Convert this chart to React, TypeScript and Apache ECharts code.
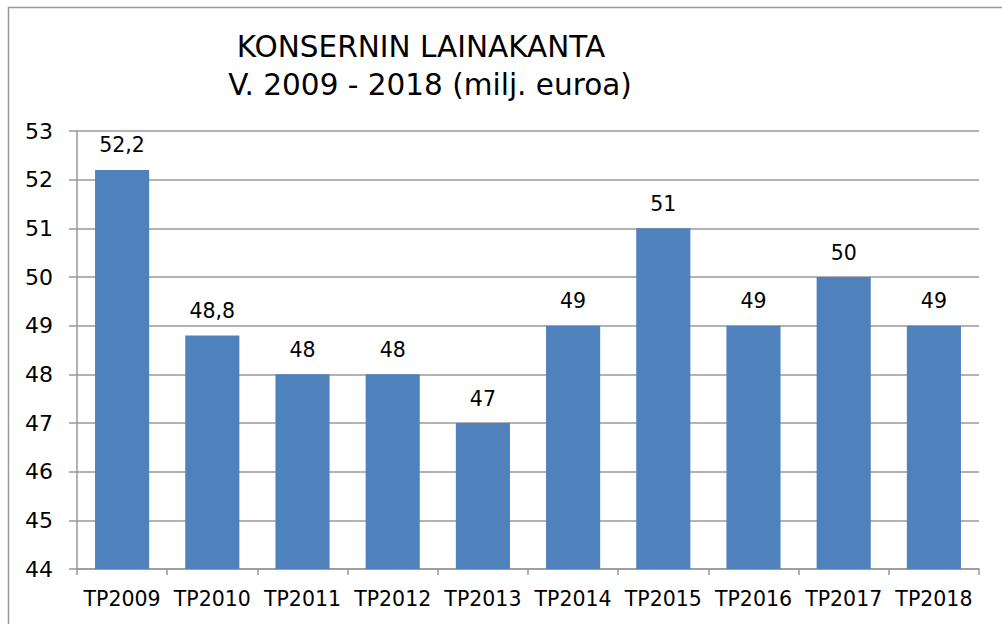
import React, { useEffect, useRef } from "react";
import * as echarts from "echarts";

const categories = ["TP2009", "TP2010", "TP2011", "TP2012", "TP2013", "TP2014", "TP2015", "TP2016", "TP2017", "TP2018"];
const values = [52.2, 48.8, 48, 48, 47, 49, 51, 49, 50, 49];
const titleLine1 = "KONSERNIN LAINAKANTA";
const titleLine2 = "V. 2009 - 2018 (milj. euroa)";
const yMin = 44;
const yMax = 53;

export default function App() {
  const ref = useRef<HTMLDivElement>(null);
  useEffect(() => {
    if (!ref.current) return;
    const chart = echarts.init(ref.current, null, { renderer: "svg" });
    const font = "DejaVu Sans, Verdana, sans-serif";
    chart.setOption({
      animation: false,
      backgroundColor: "#ffffff",
      textStyle: { fontFamily: font },
      graphic: [
        {
          type: "rect",
          shape: { x: 8.5, y: 7.5, width: 1100, height: 700 },
          style: { fill: "none", stroke: "#999999", lineWidth: 1.5 },
          silent: true,
        },
        {
          type: "text",
          x: 421,
          y: 62,
          style: { text: titleLine1, fontSize: 29.5, fontFamily: font, fill: "#000", textAlign: "center", textVerticalAlign: "bottom" },
        },
        {
          type: "text",
          x: 430,
          y: 100,
          style: { text: titleLine2, fontSize: 29.5, fontFamily: font, fill: "#000", textAlign: "center", textVerticalAlign: "bottom" },
        },
      ],
      grid: { left: 77, right: 23, top: 131, bottom: 55 },
      xAxis: {
        type: "category",
        data: categories,
        axisLine: { lineStyle: { color: "#999999", width: 1.5 } },
        axisTick: { show: true, length: 6, lineStyle: { color: "#999999", width: 1.5 } },
        axisLabel: { color: "#000", fontSize: 20.5, margin: 19, interval: 0, fontFamily: font },
      },
      yAxis: {
        type: "value",
        min: yMin,
        max: yMax,
        interval: 1,
        axisLine: { show: true, lineStyle: { color: "#999999", width: 1.5 } },
        axisTick: { show: true, length: 8, lineStyle: { color: "#999999", width: 1.5 } },
        splitLine: { lineStyle: { color: "#999999", width: 1.5 } },
        axisLabel: { color: "#000", fontSize: 22, margin: 24, fontFamily: font },
      },
      series: [
        {
          type: "bar",
          data: values,
          barWidth: "60%",
          itemStyle: { color: "#4f81bd" },
          label: {
            show: true,
            position: "top",
            distance: 14,
            fontSize: 20.5,
            color: "#000",
            fontFamily: font,
            formatter: (p: any) => String(p.value).replace(".", ","),
          },
        },
      ],
    });
    return () => chart.dispose();
  }, []);
  return <div ref={ref} style={{ position: "absolute", left: 0, top: 0, width: 1002, height: 624 }} />;
}
